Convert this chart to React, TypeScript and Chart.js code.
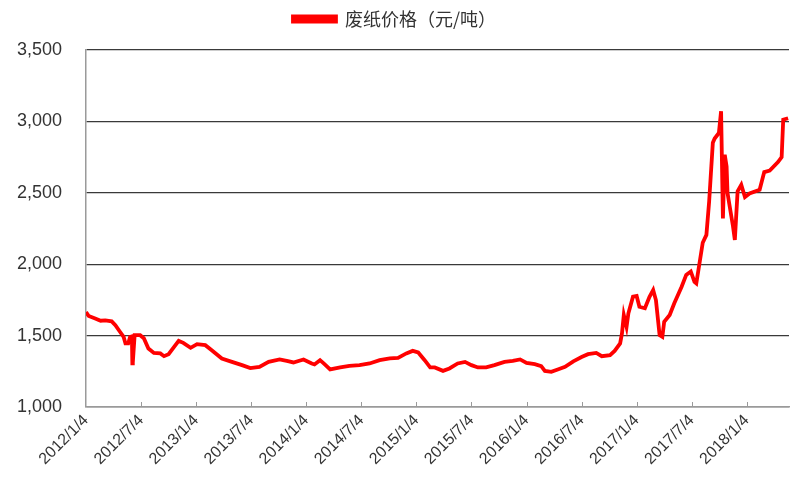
import React, { useEffect, useRef } from "react";
import { Chart, registerables } from "chart.js";

Chart.register(...registerables);

// months elapsed since 2012/1/4
const months = [
  0, 0.3, 1.0, 1.6, 2.1, 2.8, 3.2, 3.7, 4.1, 4.3, 4.6, 4.8, 5.0, 5.05, 5.1, 5.3, 5.9, 6.3, 6.8, 7.4,
  8.1, 8.5, 9.0, 9.6, 10.1, 10.6, 11.4, 12.1, 13.0, 13.7, 14.8, 15.9, 17.0, 17.9, 18.9, 19.9, 21.1,
  22.0, 22.6, 23.7, 24.6, 24.9, 25.5, 25.9, 26.6, 27.7, 28.7, 29.8, 30.9, 32.0, 33.1, 34.0, 34.9,
  35.6, 36.2, 36.9, 37.5, 38.0, 38.9, 39.6, 40.5, 41.3, 42.0, 42.7, 43.6, 44.5, 45.6, 46.5, 47.3,
  48.0, 48.9, 49.6, 50.0, 50.7, 51.4, 52.2, 53.1, 54.0, 54.7, 55.6, 56.2, 57.1, 57.6, 58.2, 58.4,
  58.6, 58.9, 59.1, 59.2, 59.6, 60.0, 60.3, 60.9, 61.4, 61.8, 62.1, 62.5, 62.8, 63.0, 63.6, 64.1,
  64.9, 65.4, 65.9, 66.3, 66.5, 66.9, 67.2, 67.6, 67.9, 68.3, 68.5, 68.96, 69.2, 69.4, 69.6, 69.8,
  69.9, 70.1, 70.5, 70.7, 71.0, 71.4, 71.8, 72.3, 73.4, 73.9, 74.5, 75.4, 75.8, 75.97, 76.5,
];

const prices = [
  1665, 1637, 1620, 1604, 1606, 1600, 1573, 1527, 1491, 1445, 1445, 1491, 1495, 1305, 1310, 1503,
  1503, 1482, 1410, 1379, 1375, 1356, 1370, 1421, 1463, 1449, 1414, 1440, 1433, 1398, 1340, 1316,
  1293, 1272, 1281, 1316, 1333, 1321, 1312, 1333, 1305, 1298, 1328, 1305, 1263, 1277, 1288, 1293,
  1305, 1328, 1340, 1344, 1375, 1393, 1382, 1328, 1277, 1277, 1253, 1270, 1305, 1316, 1293, 1277,
  1277, 1293, 1316, 1323, 1333, 1309, 1300, 1286, 1253, 1246, 1263, 1281, 1320, 1350, 1370, 1379,
  1356, 1363, 1393, 1445, 1515, 1644, 1562, 1656, 1679, 1772, 1777, 1702, 1691, 1772, 1819, 1749,
  1503, 1491, 1597, 1644, 1726, 1842, 1925, 1949, 1877, 1866, 2028, 2150, 2205, 2440, 2850, 2880,
  2919, 3071, 2320, 2767, 2685, 2500, 2420, 2264, 2170, 2510, 2556, 2470, 2495, 2521, 2645, 2655,
  2715, 2750, 3012, 3022,
];

const tickLabels = [
  "2012/1/4", "2012/7/4", "2013/1/4", "2013/7/4", "2014/1/4", "2014/7/4", "2015/1/4",
  "2015/7/4", "2016/1/4", "2016/7/4", "2017/1/4", "2017/7/4", "2018/1/4",
];

const seriesName = "废纸价格（元/吨）";

const legendHeightPlugin = {
  id: "legendHeight",
  afterInit(chart: any) {
    const l = chart.legend;
    if (!l || l.__patched) return;
    const fit = l.fit;
    l.fit = function () {
      fit.call(this);
      this.height = 50;
    };
    l.__patched = true;
  },
};

const innerTicksPlugin = {
  id: "innerTicks",
  afterDatasetsDraw(chart: any) {
    const x = chart.scales.x;
    const ctx = chart.ctx;
    const bottom = chart.chartArea.bottom;
    ctx.save();
    ctx.strokeStyle = "#9a9a9a";
    ctx.lineWidth = 1;
    for (let i = 1; i < tickLabels.length; i++) {
      const px = Math.round(x.getPixelForValue(i * 6)) + 0.5;
      ctx.beginPath();
      ctx.moveTo(px, bottom - 5);
      ctx.lineTo(px, bottom);
      ctx.stroke();
    }
    ctx.restore();
  },
};

export default function App() {
  const ref = useRef<HTMLCanvasElement>(null);
  useEffect(() => {
    if (!ref.current) return;
    const chart = new Chart(ref.current, {
      type: "line",
      data: {
        datasets: [
          {
            label: seriesName,
            data: months.map((m, i) => ({ x: m, y: prices[i] })),
            borderColor: "#ff0000",
            backgroundColor: "#ff0000",
            borderWidth: 3.8,
            pointRadius: 0,
            tension: 0,
          },
        ],
      },
      options: {
        animation: false,
        responsive: false,
        layout: { padding: { left: 0, right: 11, top: 0, bottom: 0 } },
        plugins: {
          legend: {
            position: "top",
            align: "center",
            labels: {
              boxWidth: 43,
              boxHeight: 5,
              padding: 10,
              color: "#333",
              font: { family: "'Noto Sans CJK SC', sans-serif", size: 18 },
            },
          },
          tooltip: { enabled: false },
        },
        scales: {
          x: {
            type: "linear",
            min: 0,
            max: 76.6,
            grid: { drawOnChartArea: false, drawTicks: false },
            border: { display: true, color: "#9a9a9a", width: 1.5 },
            afterFit(scale: any) {
              scale.height = 93;
            },
            ticks: {
              stepSize: 6,
              includeBounds: false,
              autoSkip: false,
              maxRotation: 45,
              minRotation: 45,
              padding: 4,
              color: "#333",
              font: { family: "'Liberation Sans', Arial, sans-serif", size: 16 },
              callback(v: any) {
                const n = Number(v);
                if (n % 6 !== 0) return "";
                return tickLabels[n / 6] ?? "";
              },
            },
          },
          y: {
            min: 1000,
            max: 3500,
            grid: { color: "#3a3a3a", lineWidth: 1.3, drawTicks: false },
            border: { display: true, color: "#9a9a9a", width: 1.5 },
            afterFit(scale: any) {
              scale.width = 86;
            },
            ticks: {
              stepSize: 500,
              padding: 24,
              color: "#333",
              font: { family: "'Liberation Sans', Arial, sans-serif", size: 18 },
              callback(v: any) {
                return Number(v).toLocaleString("en-US");
              },
            },
          },
        },
      },
      plugins: [legendHeightPlugin, innerTicksPlugin],
    });
    return () => chart.destroy();
  }, []);
  return (
    <div style={{ position: "fixed", left: 0, top: 0, width: 800, height: 500, background: "#fff" }}>
      <canvas ref={ref} width={800} height={500} style={{ width: 800, height: 500 }} />
    </div>
  );
}
